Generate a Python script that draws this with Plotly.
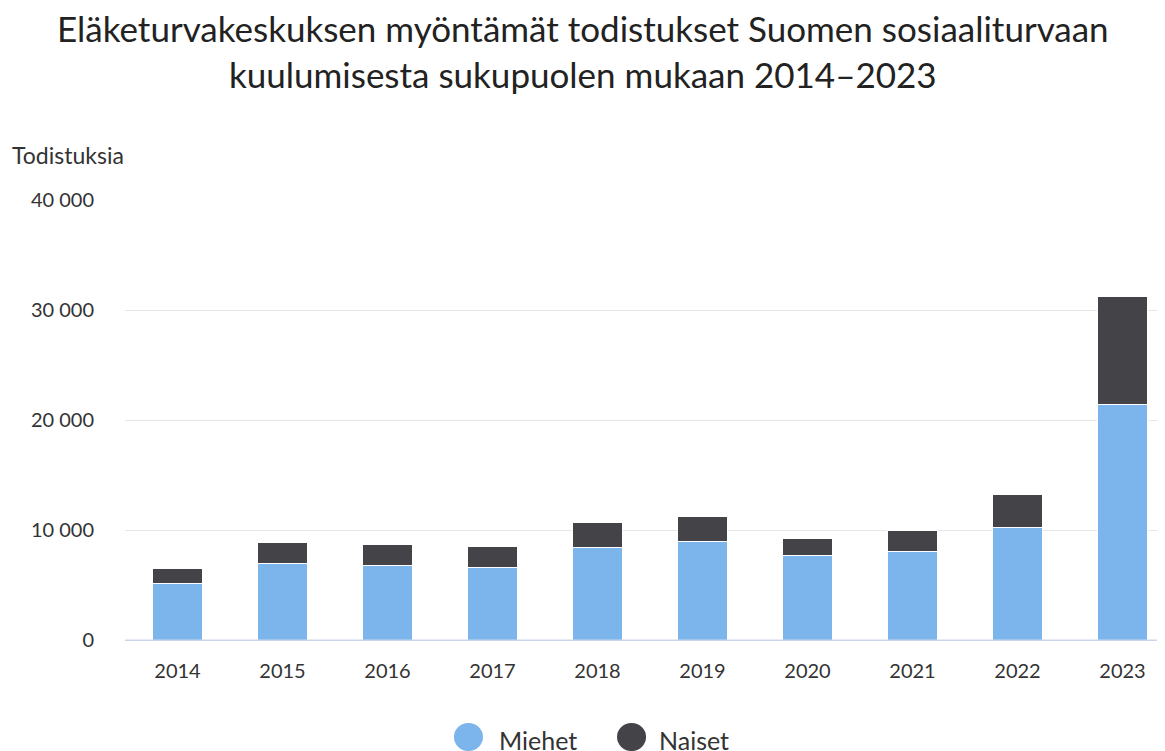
import plotly.graph_objects as go

years = ["2014", "2015", "2016", "2017", "2018", "2019", "2020", "2021", "2022", "2023"]
miehet = [5150, 6970, 6790, 6610, 8430, 9000, 7700, 8060, 10270, 21430]
naiset = [1370, 1910, 1910, 1910, 2270, 2270, 1540, 1910, 3000, 9780]
y_ticks = [0, 10000, 20000, 30000, 40000]
y_tick_labels = ["0", "10 000", "20 000", "30 000", "40 000"]
series_names = ["Miehet", "Naiset"]

BLUE = "#7cb5ec"
DARK = "#434348"
FONT = "Source Sans Pro, Lato, Noto Sans, sans-serif"

fig = go.Figure()
fig.add_trace(go.Bar(x=years, y=miehet, name=series_names[0], marker=dict(color=BLUE, line=dict(color="white", width=1)), showlegend=False))
fig.add_trace(go.Bar(x=years, y=naiset, name=series_names[1], marker=dict(color=DARK, line=dict(color="white", width=1)), showlegend=False))

# custom legend (large circle symbols) placed below the plot, in paper coordinates
legend_items = [
    (series_names[0], BLUE, 0.3163, 0.3442, 0.3577),
    (series_names[1], DARK, 0.4731, 0.5010, 0.5115),
]
annotations = [
    dict(text="Eläketurvakeskuksen myöntämät todistukset Suomen sosiaaliturvaan<br>kuulumisesta sukupuolen mukaan 2014–2023",
         xref="paper", yref="paper", x=0.4404, y=1.3386, xanchor="center", yanchor="middle",
         showarrow=False, font=dict(size=35, color="#222222", family=FONT)),
    dict(text="Todistuksia", xref="paper", yref="paper", x=-0.1106, y=1.102, xanchor="left", yanchor="middle",
         showarrow=False, font=dict(size=23, color="#333333")),
]
shapes = [dict(type="line", xref="paper", yref="y", x0=0, x1=1, y0=0, y1=0, line=dict(color="#ccd6eb", width=1))]
for name, col, cx0, cx1, tx in legend_items:
    shapes.append(dict(type="circle", xref="paper", yref="paper", x0=cx0, x1=cx1, y0=-0.1886, y1=-0.2523,
                       fillcolor=col, line=dict(width=0), layer="above"))
    annotations.append(dict(text=name, xref="paper", yref="paper", x=tx, y=-0.2273, xanchor="left", yanchor="middle",
                            showarrow=False, font=dict(size=25, color="#333333")))

fig.update_layout(
    width=1157, height=743,
    barmode="stack", bargap=0.52,
    plot_bgcolor="white", paper_bgcolor="white",
    font=dict(family=FONT, color="#333333", size=18),
    margin=dict(l=117, r=0, t=192, b=111),
    showlegend=False,
    xaxis=dict(type="category", range=[-0.5, 9.405], showline=True, linecolor="#ccd6eb", linewidth=1,
               showgrid=False, ticks="", tickfont=dict(size=20, color="#333333"), ticklabelstandoff=13),
    yaxis=dict(range=[0, 40000], tickvals=y_ticks, ticktext=y_tick_labels, showgrid=True,
               gridcolor="#e6e6e6", gridwidth=1, zeroline=False, showline=False,
               tickfont=dict(size=20, color="#333333"), ticklabelstandoff=30),
    annotations=annotations,
    shapes=shapes,
)

fig.write_html("out.html")
